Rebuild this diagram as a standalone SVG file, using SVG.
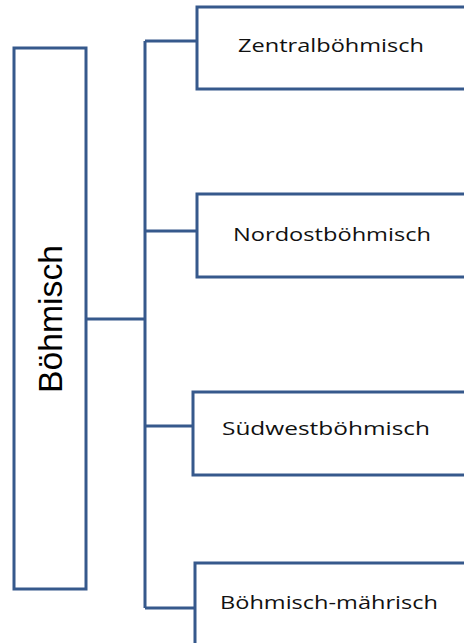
<svg xmlns="http://www.w3.org/2000/svg" width="464" height="643" viewBox="0 0 464 643">
<style>
.box{fill:#fff;stroke:#36598C;stroke-width:3}
.ln{fill:none;stroke:#36598C;stroke-width:3}
.t{font-family:"Open Sans","DejaVu Sans",sans-serif;font-size:18px;fill:#111;text-anchor:middle}
.root{font-family:"Liberation Sans",Arial,sans-serif;font-size:34px;fill:#000;text-anchor:middle}
</style>
<rect width="464" height="643" fill="#fff"/>
<g id="connectors">
<path class="ln" d="M86,319 H145 M145,41 V608 M145,41 H197 M145,231 H197 M145,426 H193 M145,608 H195"/>
</g>
<g id="root">
<rect class="box" x="14" y="48" width="72" height="541"/>
<text class="root" transform="translate(62,319) rotate(-90)" textLength="148" lengthAdjust="spacingAndGlyphs">Böhmisch</text>
</g>
<g id="n1">
<rect class="box" x="197" y="7" width="275" height="82"/>
<text class="t" x="331" y="52" textLength="186" lengthAdjust="spacingAndGlyphs">Zentralböhmisch</text>
</g>
<g id="n2">
<rect class="box" x="197" y="194" width="275" height="83"/>
<text class="t" x="332" y="241" textLength="198" lengthAdjust="spacingAndGlyphs">Nordostböhmisch</text>
</g>
<g id="n3">
<rect class="box" x="193" y="392" width="279" height="83"/>
<text class="t" x="326" y="435" textLength="208" lengthAdjust="spacingAndGlyphs">Südwestböhmisch</text>
</g>
<g id="n4">
<rect class="box" x="195" y="563" width="277" height="90"/>
<text class="t" x="329" y="609" textLength="218" lengthAdjust="spacingAndGlyphs">Böhmisch-mährisch</text>
</g>
</svg>
